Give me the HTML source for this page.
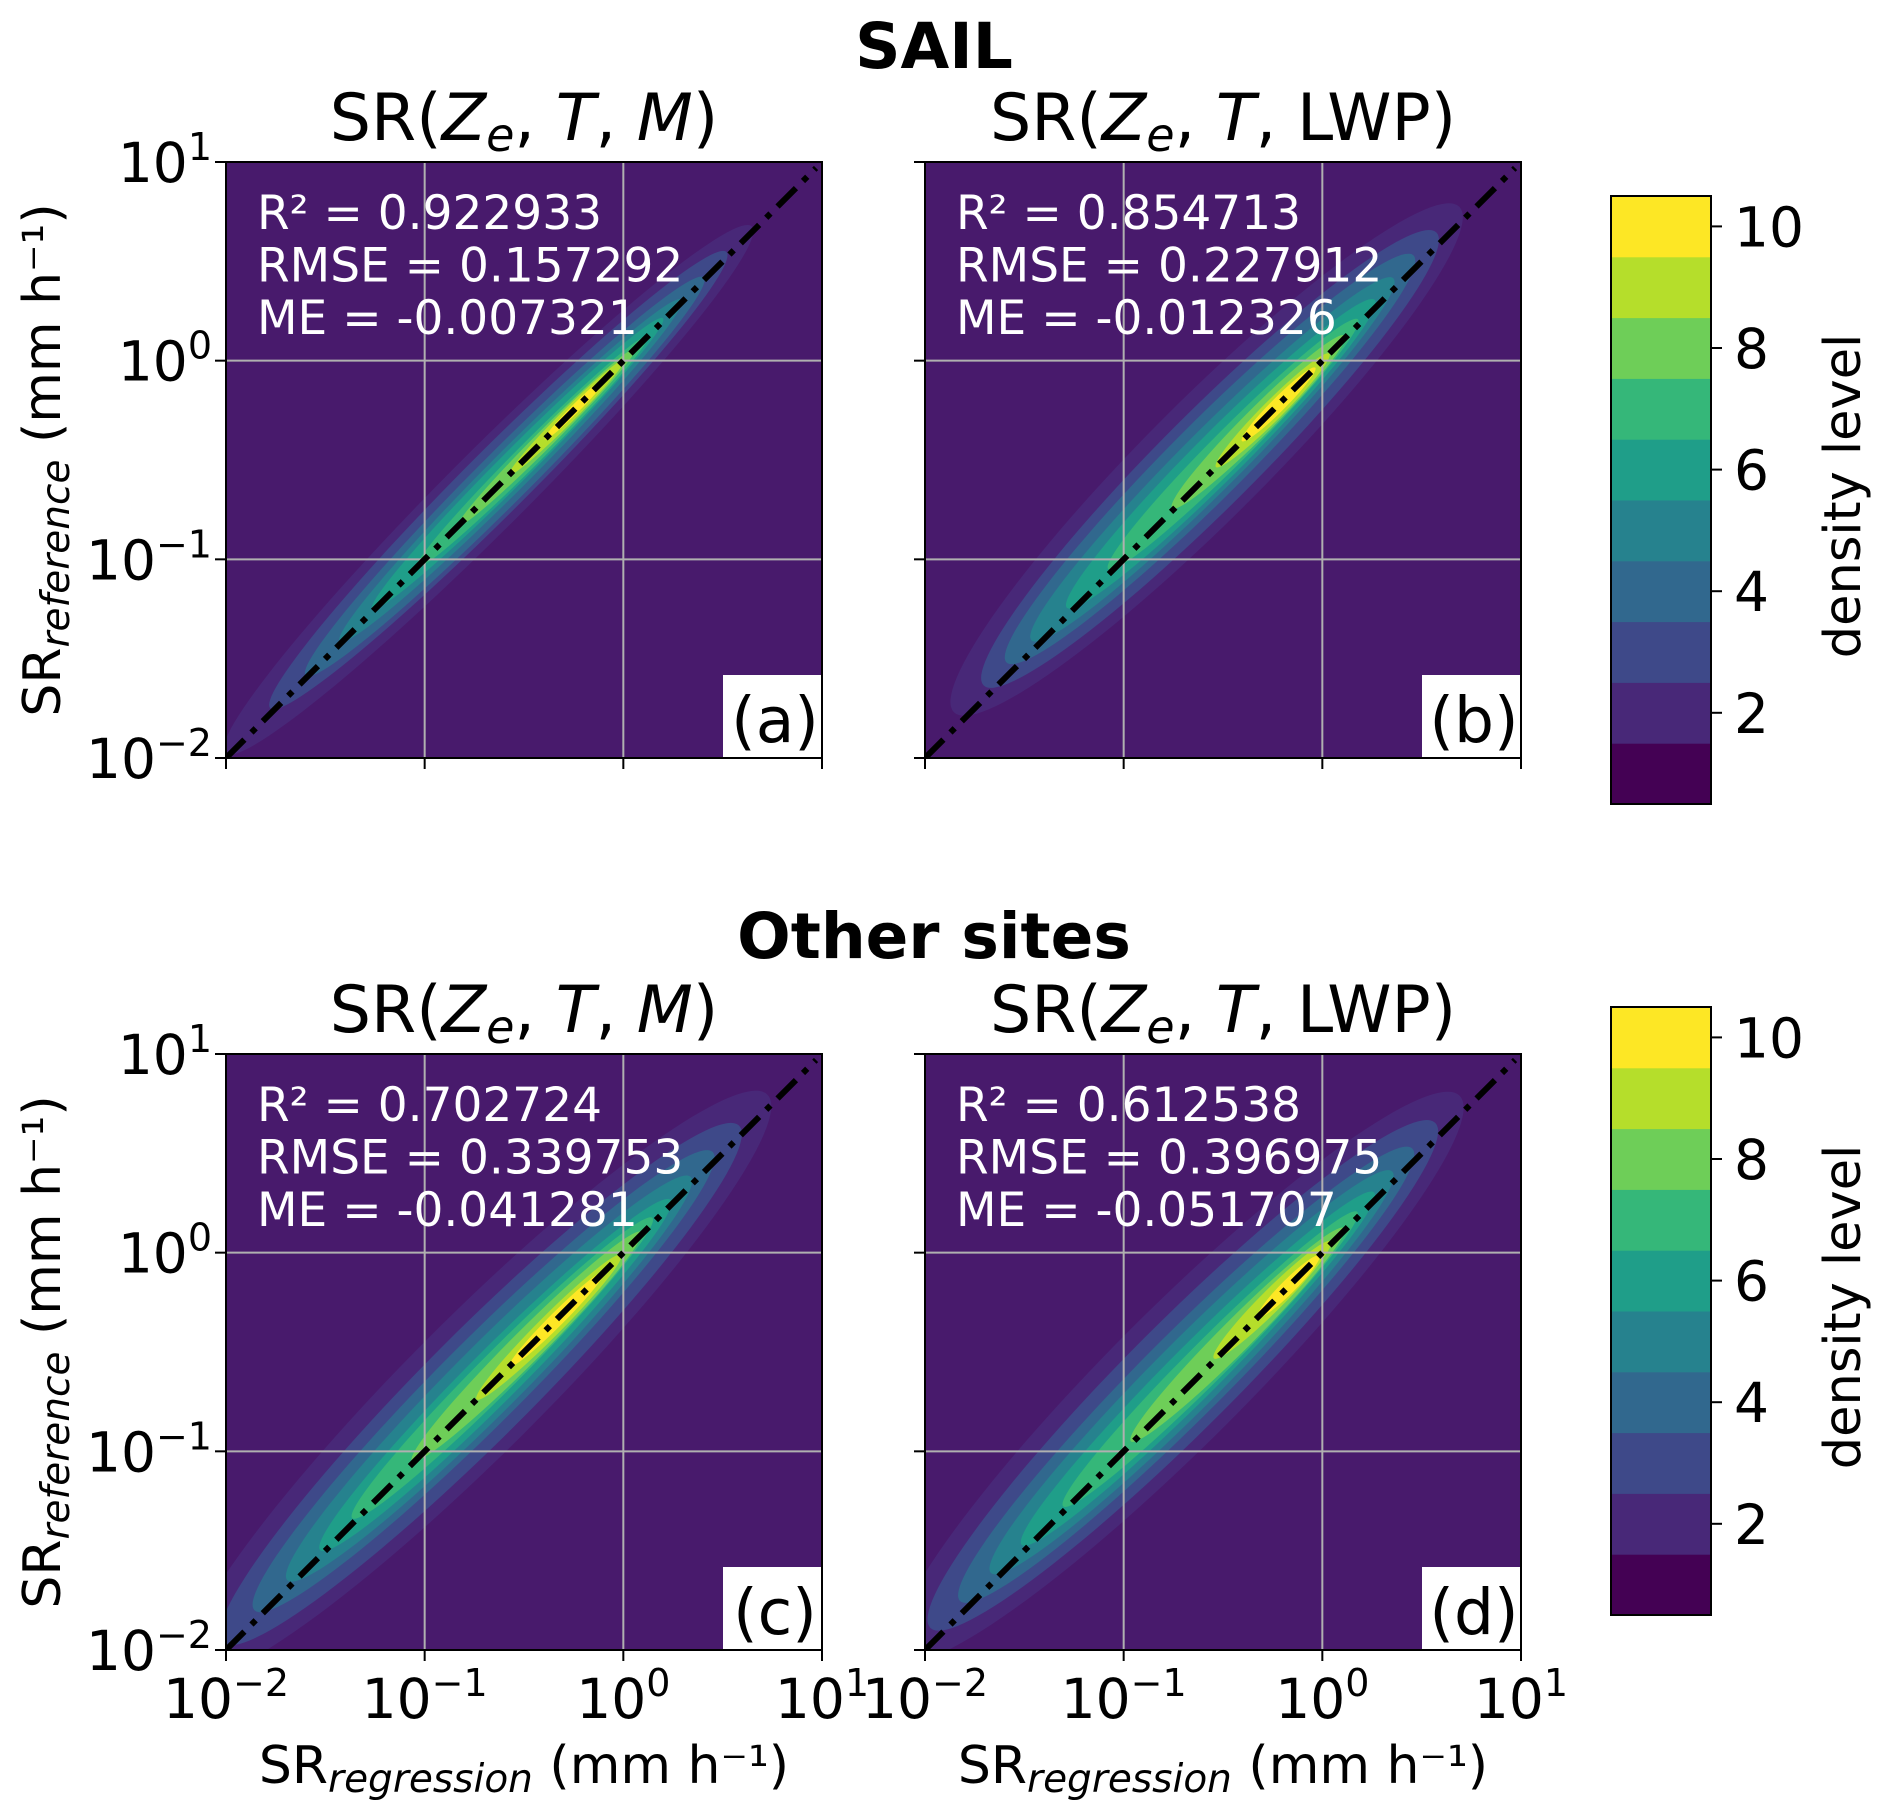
<!DOCTYPE html>
<html><head><meta charset="utf-8">
<style>
html,body{margin:0;padding:0;background:#fff;}
svg{display:block;font-family:"DejaVu Sans","Liberation Sans",sans-serif;}
</style></head>
<body>
<svg id="fig" width="1892" height="1816" viewBox="0 0 1892 1816" xmlns="http://www.w3.org/2000/svg">
<text x="934" y="68" font-size="63" font-weight="bold" text-anchor="middle">SAIL</text>
<text x="934" y="958" font-size="63" font-weight="bold" text-anchor="middle">Other sites</text>
<g id="panels"></g>
<g id="cbars"></g>
</svg>
<script>
// ---- data ----
const tickExps = [-2, -1, 0, 1];
const tickLabels = ["\u22122", "\u22121", "0", "1"];
const cbTicks = [2, 4, 6, 8, 10];
const cbLevels = [1, 2, 3, 4, 5, 6, 7, 8, 9, 10];
const levelColors = ["#440154","#482878","#3e4989","#31688e","#26828e","#1f9e89","#35b779","#6ece58","#b5de2b","#fde725"];
const panelLetters = ["(a)", "(b)", "(c)", "(d)"];
const panelTitles = ["M", "LWP", "M", "LWP"];
const r2Values = ["0.922933", "0.854713", "0.702724", "0.612538"];
const rmseValues = ["0.157292", "0.227912", "0.339753", "0.396975"];
const meValues = ["-0.007321", "-0.012326", "-0.041281", "-0.051707"];
// density contours per panel: level index, start/end along diagonal (log10 x), half-width (decades), perpendicular offset (decades)
const aLevel = [1,2,3,4,5,6,7,8,9];
const aStart = [-1.85,-1.65,-1.5,-1.35,-1.2,-1.0,-0.8,-0.55,-0.38];
const aEnd   = [0.52,0.42,0.32,0.23,0.15,0.08,0.03,-0.02,-0.1];
const aHalfW = [0.2,0.16,0.13,0.1,0.08,0.06,0.045,0.035,0.022];
const aOff   = [0.02,0.02,0.01,0.01,0.01,0,0,0,0];
const bLevel = [1,2,3,4,5,6,7,8,9];
const bStart = [-1.6,-1.5,-1.42,-1.33,-1.18,-1.0,-0.7,-0.5,-0.38];
const bEnd   = [0.52,0.44,0.36,0.28,0.2,0.13,0.07,0.0,-0.06];
const bHalfW = [0.3,0.24,0.19,0.15,0.12,0.09,0.07,0.05,0.035];
const bOff   = [0.06,0.05,0.05,0.04,0.03,0.02,0.01,0,0];
const cLevel = [1,2,3,4,5,6,7,8,9];
const cStart = [-1.92,-1.8,-1.68,-1.55,-1.42,-1.28,-1.0,-0.7,-0.55];
const cEnd   = [0.52,0.42,0.33,0.24,0.16,0.09,0.04,-0.05,-0.12];
const cHalfW = [0.34,0.27,0.21,0.17,0.13,0.1,0.08,0.055,0.035];
const cOff   = [0.05,0.04,0.04,0.03,0.02,0.02,0.01,0,0];
const dLevel = [1,2,3,4,5,6,7,8,9];
const dStart = [-1.85,-1.74,-1.64,-1.52,-1.4,-1.22,-0.9,-0.5,-0.3];
const dEnd   = [0.5,0.42,0.34,0.26,0.19,0.12,0.06,0.01,-0.04];
const dHalfW = [0.34,0.27,0.21,0.17,0.13,0.1,0.08,0.055,0.035];
const dOff   = [0.07,0.06,0.05,0.04,0.03,0.02,0.01,0.01,0];

const NS = "http://www.w3.org/2000/svg";
function mk(tag, attrs, parent){const e=document.createElementNS(NS,tag);for(const k in attrs)e.setAttribute(k,attrs[k]);if(parent)parent.appendChild(e);return e;}

const panels = [
 {x0:226,y0:162,lv:aLevel,st:aStart,en:aEnd,hw:aHalfW,of:aOff,xl:false,yl:true},
 {x0:925,y0:162,lv:bLevel,st:bStart,en:bEnd,hw:bHalfW,of:bOff,xl:false,yl:false},
 {x0:226,y0:1054,lv:cLevel,st:cStart,en:cEnd,hw:cHalfW,of:cOff,xl:true,yl:true},
 {x0:925,y0:1054,lv:dLevel,st:dStart,en:dEnd,hw:dHalfW,of:dOff,xl:true,yl:false}
];
const W=596,H=596;
const root=document.getElementById('panels');

panels.forEach((p,i)=>{
  const X=v=>p.x0+(v+2)/3*W;
  const Y=v=>p.y0+H-(v+2)/3*H;
  const dec=W/3;
  const g=mk('g',{},root);
  
  
  const cp=mk('clipPath',{id:'clip'+i},g);
  mk('rect',{x:p.x0,y:p.y0,width:W,height:H},cp);
  const bg=mk('rect',{x:p.x0,y:p.y0,width:W,height:H,fill:'#481a6c'},g);
  
  
  const cg=mk('g',{'clip-path':'url(#clip'+i+')'},g);
  for(let k=0;k<p.lv.length;k++){
    const a=p.st[k], b=p.en[k], hw=p.hw[k]*dec, off=p.of[k]*dec;
    const cx=(X(a)+X(b))/2 - off/Math.SQRT2, cy=(Y(a)+Y(b))/2 - off/Math.SQRT2;
    const len=Math.hypot(X(b)-X(a),Y(b)-Y(a))+2*hw;
    const r=mk('ellipse',{cx:cx,cy:cy,rx:len/2,ry:hw,fill:levelColors[p.lv[k]],transform:`rotate(-45 ${cx} ${cy})`},cg);
    
    
  }
  // grid
  [-1,0].forEach(e=>{
    const gx=mk('line',{x1:X(e),x2:X(e),y1:p.y0,y2:p.y0+H,stroke:'#b0b0b0','stroke-width':2},g);
    
    
    const gy=mk('line',{x1:p.x0,x2:p.x0+W,y1:Y(e),y2:Y(e),stroke:'#b0b0b0','stroke-width':2},g);
    
    
  });
  // 1:1 line
  const dl=mk('line',{x1:X(-2),y1:Y(-2),x2:X(0.97),y2:Y(0.97),stroke:'#000','stroke-width':6,'stroke-dasharray':'26 10 6 10','clip-path':'url(#clip'+i+')'},g);
  
  
  // stats
  const st=[['R\u00b2 = ',r2Values[i]],['RMSE = ',rmseValues[i]],['ME = ',meValues[i]]];
  st.forEach((s,j)=>{
    const t=mk('text',{x:p.x0+31,y:p.y0+67+j*52.5,'font-size':47,fill:'#fff'},g);
    t.textContent=s[0]+s[1];
    
    
  });
  // letter box
  const lb=mk('rect',{x:p.x0+W-99,y:p.y0+H-83,width:99,height:83,fill:'#fff'},g);
  
  
  const lt=mk('text',{x:p.x0+W-47,y:p.y0+H-16,'font-size':63,'text-anchor':'middle'},g);
  lt.textContent=panelLetters[i];
  
  
  // frame
  const fr=mk('rect',{x:p.x0,y:p.y0,width:W,height:H,fill:'none',stroke:'#000','stroke-width':2},g);
  
  
  // ticks
  tickExps.forEach((e,j)=>{
    mk('line',{x1:X(e),x2:X(e),y1:p.y0+H,y2:p.y0+H+11,stroke:'#000','stroke-width':2},g);
    mk('line',{x1:p.x0-11,x2:p.x0,y1:Y(e),y2:Y(e),stroke:'#000','stroke-width':2},g);
    if(p.yl){
      const t=mk('text',{x:p.x0-14,y:Y(e)+20,'font-size':55,'text-anchor':'end'},g);
      
      
      const s1=mk('tspan',{},t);s1.textContent='10';
      const s2=mk('tspan',{dy:-22,'font-size':38},t);s2.textContent=tickLabels[j];
    }
    if(p.xl){
      const t=mk('text',{x:X(e),y:p.y0+H+68,'font-size':55,'text-anchor':'middle'},g);
      
      
      const s1=mk('tspan',{},t);s1.textContent='10';
      const s2=mk('tspan',{dy:-22,'font-size':38},t);s2.textContent=tickLabels[j];
    }
  });
  // panel title
  const tt=mk('text',{x:p.x0+W/2,y:p.y0-22,'font-size':65,'text-anchor':'middle'},g);
  
  
  const parts=[['SR(',''],['Z','italic'],['e','sub'],[', ',''],['T','italic'],[', ','']];
  parts.forEach((pt,pi)=>{
    const s=mk('tspan',{},tt);s.textContent=pt[0];
    if(pt[1]==='italic')s.setAttribute('font-style','italic');
    if(pt[1]==='sub'){s.setAttribute('font-style','italic');s.setAttribute('font-size','46');s.setAttribute('dy','11');}
    if(pi===3)s.setAttribute('dy','-11');
  });
  const last=mk('tspan',{},tt);last.textContent=panelTitles[i];
  if(panelTitles[i]==='M')last.setAttribute('font-style','italic');
  const cl=mk('tspan',{},tt);cl.textContent=')';
  // axis labels
  if(p.yl){
    const cy=p.y0+H/2;
    const t=mk('text',{x:0,y:0,'font-size':52,'text-anchor':'middle',transform:`translate(60 ${cy}) rotate(-90)`},g);
    
    
    const a=mk('tspan',{},t);a.textContent='SR';
    const b=mk('tspan',{'font-style':'italic','font-size':39,dy:9},t);b.textContent='reference';
    const c=mk('tspan',{dy:-9},t);c.textContent=' (mm h\u207b\u00b9)';
  }
  if(p.xl){
    const t=mk('text',{x:p.x0+W/2,y:1783,'font-size':52,'text-anchor':'middle'},g);
    
    
    const a=mk('tspan',{},t);a.textContent='SR';
    const b=mk('tspan',{'font-style':'italic','font-size':39,dy:9},t);b.textContent='regression';
    const c=mk('tspan',{dy:-9},t);c.textContent=' (mm h\u207b\u00b9)';
  }
});

// colorbars
const cbRoot=document.getElementById('cbars');
[196,1007].forEach((top,ci)=>{
  const x0=1611,w=100,h=608;
  const CY=v=>top+h-(v-0.5)/10*h;
  const g=mk('g',{},cbRoot);
  
  
  cbLevels.forEach((lv,k)=>{
    const r=mk('rect',{x:x0,y:CY(lv+0.5),width:w,height:CY(lv-0.5)-CY(lv+0.5)+0.5,fill:levelColors[k]},g);
    
    
  });
  mk('rect',{x:x0,y:top,width:w,height:h,fill:'none',stroke:'#000','stroke-width':2},g);
  cbTicks.forEach(v=>{
    mk('line',{x1:x0+w,x2:x0+w+11,y1:CY(v),y2:CY(v),stroke:'#000','stroke-width':2},g);
    const t=mk('text',{x:x0+w+23,y:CY(v)+20,'font-size':55},g);
    t.textContent=v;
    
    
  });
  const lab=mk('text',{x:0,y:0,'font-size':51,'text-anchor':'middle',transform:`translate(1860 ${top+h/2-4}) rotate(-90)`},g);
  lab.textContent='density level';
  
  
});
</script>
</body></html>
